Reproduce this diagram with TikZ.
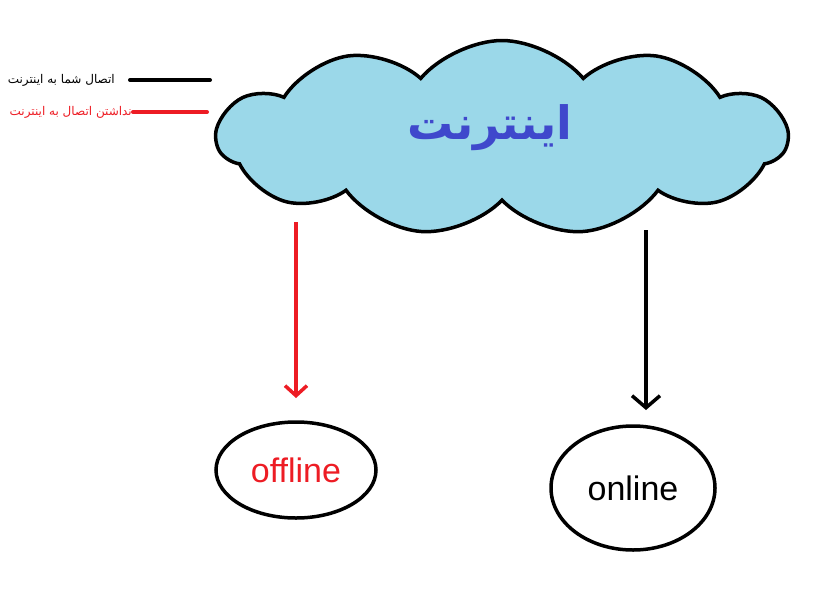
\documentclass[tikz,border=0pt]{standalone}
\usepackage{fontspec}
\setmainfont{Liberation Sans}
\newfontfamily\arabicfont[Script=Arabic]{DejaVu Sans}
\TeXXeTstate=1
\usetikzlibrary{shapes.symbols,shapes.geometric,arrows.meta}
\definecolor{cloudblue}{RGB}{155,216,233}
\definecolor{myred}{RGB}{237,28,36}
\definecolor{txtblue}{RGB}{63,72,204}
\tikzset{thick3/.style={line width=3.5pt},
 oval/.style={draw,ellipse,line width=3.5pt,font=\fontsize{34}{38}\selectfont}}
\begin{document}
\begin{tikzpicture}[x=1pt,y=-1pt]
\useasboundingbox (0,0) rectangle (819,592);
\node[cloud,cloud puffs=11,cloud puff arc=100,aspect=3,draw,fill=cloudblue,line width=3.5pt,minimum width=570pt,minimum height=195pt,inner sep=0pt] (cloud) at (502,138) {};
\node[text=txtblue,font=\arabicfont\bfseries\fontsize{46}{52}\selectfont] (title) at (490,128) {\beginR اینترنت\endR};
\coordinate (r1) at (296,222); \coordinate (r2) at (296,398);
\coordinate (b1) at (646,230); \coordinate (b2) at (646,410);
\draw[thick3,myred,-{Straight Barb[length=10pt,width=22pt,line width=3.5pt]}] (r1) -- (r2);
\draw[thick3,black,-{Straight Barb[length=12pt,width=28pt,line width=3.5pt]}] (b1) -- (b2);
\node[oval,minimum width=160pt,minimum height=96pt,text=myred] (off) at (296,470) {offline};
\node[oval,minimum width=164pt,minimum height=124pt] (on) at (633,488) {online};
\coordinate (l1a) at (130,80); \coordinate (l1b) at (210,80);
\coordinate (l2a) at (133,112); \coordinate (l2b) at (207,112);
\draw[line width=4pt,line cap=round] (l1a) -- (l1b);
\draw[line width=4pt,line cap=round,myred] (l2a) -- (l2b);
\node[anchor=east,font=\arabicfont\fontsize{12}{14}\selectfont,inner sep=0pt] (lg1) at (115,80) {\beginR اتصال شما به اینترنت\endR};
\node[anchor=east,font=\arabicfont\fontsize{12}{14}\selectfont,text=myred,inner sep=0pt] (lg2) at (132,112) {\beginR نداشتن اتصال به اینترنت\endR};
\end{tikzpicture}
\end{document}
